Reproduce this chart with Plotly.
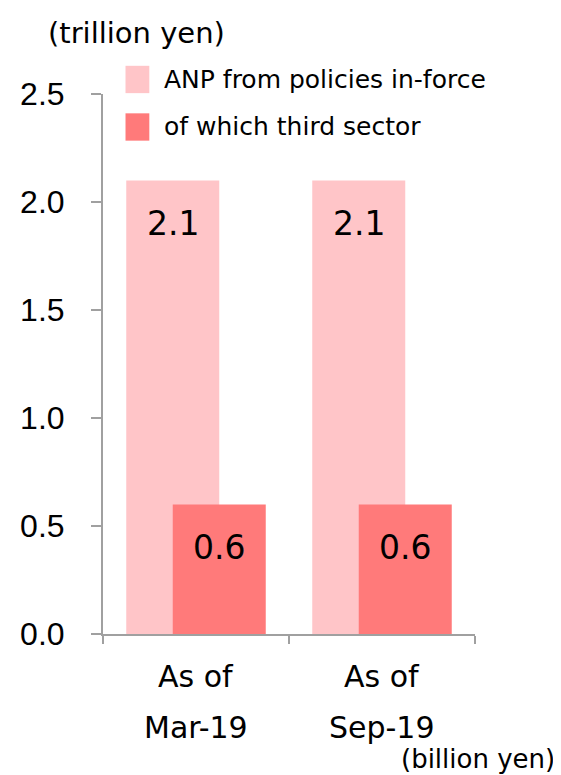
import plotly.graph_objects as go

# ---- data ----
categories = ["Mar-19", "Sep-19"]
cat_prefix = ["As of", "As of"]
anp_inforce = [2.1, 2.1]
third_sector = [0.6, 0.6]
series_names = ["ANP from policies in-force", "of which third sector"]
y_ticks = [0.0, 0.5, 1.0, 1.5, 2.0, 2.5]
unit_top = "(trillion yen)"
unit_bottom = "(billion yen)"

light = "#FFC5C8"
dark = "#FF7A7A"
axis_col = "#A0A0A0"
lab_font = "DejaVu Sans"

x_idx = list(range(len(categories)))
W = 0.5

fig = go.Figure()
fig.add_trace(go.Bar(x=x_idx, y=anp_inforce, width=[W] * len(x_idx), offset=-0.375,
                     marker=dict(color=light, line=dict(width=0)), name=series_names[0],
                     showlegend=False, hoverinfo="skip"))
fig.add_trace(go.Bar(x=x_idx, y=third_sector, width=[W] * len(x_idx), offset=-0.125,
                     marker=dict(color=dark, line=dict(width=0)), name=series_names[1],
                     showlegend=False, hoverinfo="skip"))

annotations = []
# bar value labels
for i, v in zip(x_idx, anp_inforce):
    annotations.append(dict(x=i - 0.125, y=v, xref="x", yref="y", text=f"{v:.1f}",
                            showarrow=False, yshift=-43, yanchor="middle", xanchor="center",
                            font=dict(family=lab_font, size=33, color="black")))
for i, v in zip(x_idx, third_sector):
    annotations.append(dict(x=i + 0.125, y=v, xref="x", yref="y", text=f"{v:.1f}",
                            showarrow=False, yshift=-43, yanchor="middle", xanchor="center",
                            font=dict(family=lab_font, size=33, color="black")))
# category labels (two lines)
for i, (p, c) in enumerate(zip(cat_prefix, categories)):
    annotations.append(dict(x=i, y=0, xref="x", yref="paper", text=p, showarrow=False,
                            yshift=-42.5, yanchor="middle", xanchor="center",
                            font=dict(family=lab_font, size=30, color="black")))
    annotations.append(dict(x=i, y=0, xref="x", yref="paper", text=c, showarrow=False,
                            yshift=-93.5, yanchor="middle", xanchor="center",
                            font=dict(family=lab_font, size=30, color="black")))
# units
annotations.append(dict(x=0, y=1, xref="paper", yref="paper", text=unit_top, showarrow=False,
                        xshift=-57, yshift=61, xanchor="left", yanchor="middle",
                        font=dict(family=lab_font, size=29, color="black")))
annotations.append(dict(x=1, y=0, xref="paper", yref="paper", text=unit_bottom, showarrow=False,
                        xshift=82, yshift=-125, xanchor="right", yanchor="middle",
                        font=dict(family=lab_font, size=26, color="black")))
# legend
leg_y = [1.0269, 0.9389]
shapes = []
for name, col, yc in zip(series_names, [light, dark], leg_y):
    shapes.append(dict(type="rect", xref="paper", yref="paper", x0=0.0605, x1=0.1245,
                       y0=yc - 0.0253, y1=yc + 0.0253, fillcolor=col, line=dict(width=0)))
    annotations.append(dict(x=0.1573, y=yc, xref="paper", yref="paper", text=name,
                            showarrow=False, xanchor="left", yanchor="middle",
                            font=dict(family=lab_font, size=25, color="black")))

fig.update_layout(
    width=553, height=767,
    margin=dict(l=92, r=86, t=86, b=141, pad=0),
    paper_bgcolor="white", plot_bgcolor="white",
    barmode="overlay",
    showlegend=False,
    annotations=annotations,
    shapes=shapes,
    xaxis=dict(range=[-0.5, 1.5], tickvals=[-0.5, 0.5, 1.5], ticktext=["", "", ""],
               showticklabels=False, ticks="outside", ticklen=8, tickwidth=2, tickcolor=axis_col,
               showline=True, linecolor=axis_col, linewidth=2, showgrid=False, zeroline=False,
               fixedrange=True),
    yaxis=dict(range=[0, 2.5], tickvals=y_ticks, tickformat=".1f", ticks="outside", ticklen=10,
               tickwidth=2, tickcolor=axis_col, showline=True, linecolor=axis_col, linewidth=2,
               showgrid=False, zeroline=False, ticklabelstandoff=20,
               tickfont=dict(family="Liberation Sans", size=32, color="black")),
)

fig.write_html("out.html")
